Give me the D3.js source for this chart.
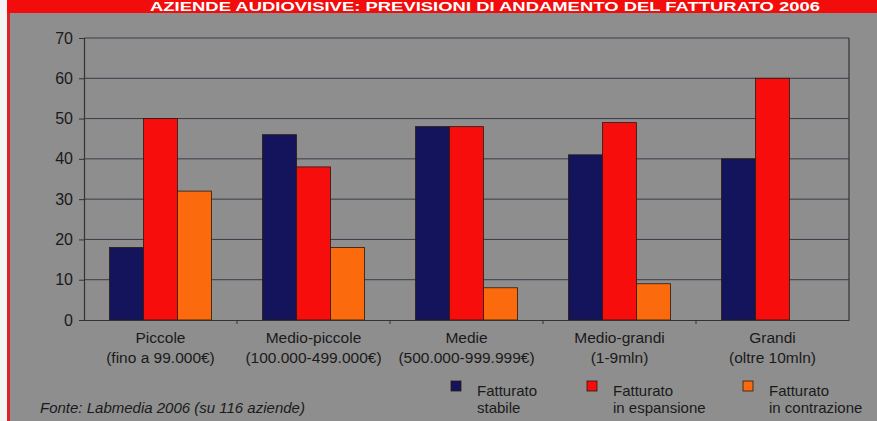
<!DOCTYPE html>
<html>
<head>
<meta charset="utf-8">
<script src="https://cdn.jsdelivr.net/npm/d3@7"></script>
<style>
html,body{margin:0;padding:0;background:#fff;}
svg{display:block;}
</style>
</head>
<body>
<svg id="chart" width="877" height="421"></svg>
<script>
const title = "AZIENDE AUDIOVISIVE: PREVISIONI DI ANDAMENTO DEL FATTURATO 2006";
const categories = ["Piccole", "Medio-piccole", "Medie", "Medio-grandi", "Grandi"];
const subLabels = ["(fino a 99.000€)", "(100.000-499.000€)", "(500.000-999.999€)", "(1-9mln)", "(oltre 10mln)"];
const seriesNames = ["Fatturato stabile", "Fatturato in espansione", "Fatturato in contrazione"];
const legendLine1 = ["Fatturato", "Fatturato", "Fatturato"];
const legendLine2 = ["stabile", "in espansione", "in contrazione"];
const stabile = [18, 46, 48, 41, 40];
const espansione = [50, 38, 48, 49, 60];
const contrazione = [32, 18, 8, 9, 0];
const yTicks = [0, 10, 20, 30, 40, 50, 60, 70];
const source = "Fonte: Labmedia 2006 (su 116 aziende)";
const colors = ["#14145c", "#f70d0b", "#fb6a0c"];

const svg = d3.select("#chart");
const W = 877, H = 421;
const font = "'Liberation Sans Narrow','Arial Narrow','Liberation Sans',Arial,sans-serif";

// background
svg.append("rect").attr("x",0).attr("y",0).attr("width",W).attr("height",H).attr("fill","#8e8e8e");
svg.append("rect").attr("x",0).attr("y",0).attr("width",7).attr("height",H).attr("fill","#f4f4f4");
svg.append("rect").attr("x",7).attr("y",0).attr("width",3).attr("height",H).attr("fill","#e0202a");
// title banner
svg.append("rect").attr("x",7).attr("y",0).attr("width",W-7).attr("height",13).attr("fill","#f20c0c");
svg.append("text")
  .attr("x",150).attr("y",10.5)
  .attr("textLength",670).attr("lengthAdjust","spacingAndGlyphs")
  .attr("font-family",font).attr("font-weight","bold").attr("font-size",12)
  .attr("fill","#ffffff").text(title);

const m = {left:84, right:849, top:38, bottom:320};
const data = categories.map((c,i)=>({cat:c, vals:[stabile[i], espansione[i], contrazione[i]]}));

const x0 = d3.scaleBand().domain(categories).range([m.left, m.right]).paddingInner(0).paddingOuter(0);
const gw = x0.bandwidth();
const x1 = d3.scaleBand().domain(d3.range(3)).range([gw*0.1667, gw*0.8333]);
const y = d3.scaleLinear().domain([0,70]).range([m.bottom, m.top]);

// gridlines
svg.append("g").selectAll("line").data(yTicks.filter(t=>t>0)).join("line")
  .attr("x1",m.left).attr("x2",m.right)
  .attr("y1",d=>y(d)).attr("y2",d=>y(d))
  .attr("stroke","#3a3a4a").attr("stroke-width",1);
// right border
svg.append("line").attr("x1",m.right).attr("x2",m.right).attr("y1",m.top).attr("y2",m.bottom)
  .attr("stroke","#333").attr("stroke-width",1.2);

// bars
const g = svg.append("g");
data.forEach((d)=>{
  g.selectAll(null).data(d.vals.map((v,j)=>({v,j}))).join("rect")
    .attr("x",e=>x0(d.cat)+x1(e.j))
    .attr("width",x1.bandwidth())
    .attr("y",e=>y(e.v))
    .attr("height",e=>y(0)-y(e.v))
    .attr("fill",e=>colors[e.j])
    .attr("stroke",e=>e.v>0?"#2a1a10":"none").attr("stroke-width",0.8);
});

// y axis
const yAxis = d3.axisLeft(y).tickValues(yTicks).tickSize(5).tickPadding(6);
const ya = svg.append("g").attr("transform",`translate(${m.left},0)`).call(yAxis);
ya.select(".domain").attr("stroke","#333").attr("stroke-width",1.2);
ya.selectAll(".tick line").attr("stroke","#333");
ya.selectAll("text").attr("font-family",font).attr("font-size",16).attr("fill","#1a1a1a");

// x axis
const xAxis = d3.axisBottom(x0).tickSize(0).tickFormat("");
const xa = svg.append("g").attr("transform",`translate(0,${m.bottom})`).call(xAxis);
xa.select(".domain").attr("stroke","#333").attr("stroke-width",1.2);
// boundary ticks
svg.append("g").selectAll("line").data(categories.slice(1)).join("line")
  .attr("x1",d=>x0(d)).attr("x2",d=>x0(d)).attr("y1",m.bottom).attr("y2",m.bottom+4)
  .attr("stroke","#333");

// category labels
const cl = svg.append("g").attr("font-family",font).attr("font-size",15.5).attr("fill","#1a1a1a").attr("text-anchor","middle");
categories.forEach((c,i)=>{
  const cx = x0(c)+gw/2;
  cl.append("text").attr("x",cx).attr("y",343).text(c);
  cl.append("text").attr("x",cx).attr("y",363).text(subLabels[i]);
});

// legend
const lx = [451, 587, 743];
const lg = svg.append("g").attr("font-family",font).attr("font-size",15).attr("fill","#1a1a1a");
seriesNames.forEach((s,i)=>{
  lg.append("rect").attr("x",lx[i]).attr("y",381).attr("width",10).attr("height",10)
    .attr("fill",colors[i]).attr("stroke","#2a1a10").attr("stroke-width",0.8);
  lg.append("text").attr("x",lx[i]+26).attr("y",396).text(legendLine1[i]);
  lg.append("text").attr("x",lx[i]+26).attr("y",413).text(legendLine2[i]);
});

// source
svg.append("text").attr("x",40).attr("y",413)
  .attr("font-family",font).attr("font-style","italic").attr("font-size",15)
  .attr("fill","#1a1a1a").text(source);
</script>
</body>
</html>
